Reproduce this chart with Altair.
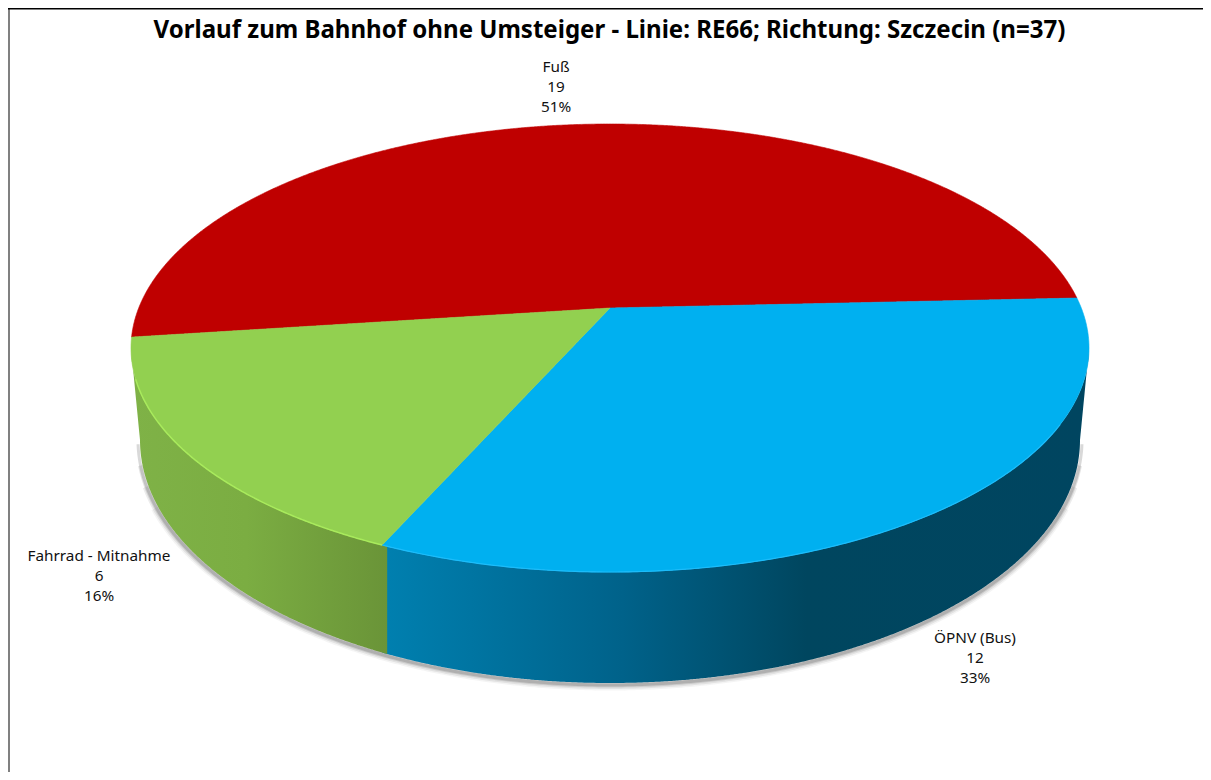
import numpy as np
import pandas as pd
import altair as alt

TITLE = "Vorlauf zum Bahnhof ohne Umsteiger - Linie: RE66; Richtung: Szczecin (n=37)"
categories = ["Fuß", "Fahrrad - Mitnahme", "ÖPNV (Bus)"]
counts = [19, 6, 12]
percents = ["51%", "16%", "33%"]
label_x = [556, 99, 975]
label_y = [67, 556, 638]
# slice boundaries (degrees round the rim: red/blue, blue/green, green/red)
edge_deg = [-12.9, 118.4, 182.8]

ORIGIN = 8
CHART_W, CHART_H = 1195, 764
cx, cy, a, b = 610.0, 348.0, 479.0, 224.0      # top rim
apex = (610.0, 308.0)                          # where the slices meet
a2, cy2, b2 = 470.0, 440.0, 243.0              # bottom rim

xs_scale = alt.Scale(domain=[ORIGIN, ORIGIN + CHART_W], nice=False, zero=False)
ys_scale = alt.Scale(domain=[ORIGIN + CHART_H, ORIGIN], nice=False, zero=False)
X = alt.X("x:Q", scale=xs_scale, axis=None)
Y = alt.Y("y:Q", scale=ys_scale, axis=None)
Y2 = alt.Y2("y2:Q")


def rim(deg):
    t = np.radians(deg)
    return cx + a * np.cos(t), cy + b * np.sin(t)


def top_up(x):
    return cy - b * np.sqrt(np.clip(1 - ((x - cx) / a) ** 2, 0, 1))


def top_lo(x):
    return cy + b * np.sqrt(np.clip(1 - ((x - cx) / a) ** 2, 0, 1))


def bot_lo(x):
    return cy2 + b2 * np.sqrt(np.clip(1 - ((x - cx) / a2) ** 2, 0, 1))


def samples(x0, x1, *extra):
    d = cx + a * np.cos(np.linspace(0, np.pi, 500))
    e = cx + a2 * np.cos(np.linspace(0, np.pi, 500))
    d = np.concatenate([d, e])
    d = d[(d > x0) & (d < x1)]
    return np.unique(np.concatenate([d, [x0, x1], list(extra)]))


p_rb = rim(edge_deg[0])
p_bg = rim(edge_deg[1])
p_gr = rim(edge_deg[2])
left, right = cx - a, cx + a

# red slice
x = samples(p_gr[0], p_rb[0], apex[0])
red = pd.DataFrame({"x": x, "y": top_up(x),
                    "y2": np.interp(x, [p_gr[0], apex[0], p_rb[0]], [p_gr[1], apex[1], p_rb[1]])})

# green slice
x = samples(left, apex[0], p_gr[0], p_bg[0])
green = pd.DataFrame({"x": x,
                      "y": np.where(x < p_gr[0], top_up(x), np.interp(x, [p_gr[0], apex[0]], [p_gr[1], apex[1]])),
                      "y2": np.where(x < p_bg[0], top_lo(x), np.interp(x, [p_bg[0], apex[0]], [p_bg[1], apex[1]]))})

# blue slice
x = samples(p_bg[0], right, apex[0], p_rb[0])
blue = pd.DataFrame({"x": x,
                     "y": np.where(x > p_rb[0], top_up(x),
                                   np.interp(x, [p_bg[0], apex[0], p_rb[0]], [p_bg[1], apex[1], p_rb[1]])),
                     "y2": top_lo(x)})

# side wall
side_left, side_right = cx - a2, cx + a2


def wall_lo(x):
    return np.where(x < side_left, np.interp(x, [left, side_left], [cy, cy2]),
                    np.where(x > side_right, np.interp(x, [side_right, right], [cy2, cy]), bot_lo(x)))


wall_split = p_bg[0] + 5
wall_split_y = top_lo(np.array([p_bg[0]]))[0]
x = samples(left, wall_split, side_left, p_bg[0])
green_wall = pd.DataFrame({"x": x,
                           "y": np.where(x < p_bg[0], top_lo(x), wall_split_y),
                           "y2": wall_lo(x)})
x = samples(p_bg[0], right, side_right)
blue_wall = pd.DataFrame({"x": x, "y": top_lo(x), "y2": wall_lo(x)})


# shadow: stacked soft strokes, the wider ones stop earlier so the ends fade out
def shadow_arc(d0, d1):
    t = np.radians(np.linspace(d0, d1, 300))
    return pd.DataFrame({"x": cx + (a2 + 2) * np.cos(t), "y": cy2 + (b2 + 2) * np.sin(t), "o": np.arange(300)})


def arc_line(d0, d1):
    t = np.radians(np.linspace(d0, d1, 200))
    return pd.DataFrame({"x": cx + a * np.cos(t), "y": cy + b * np.sin(t), "o": np.arange(200)})


def area(df, **kw):
    return alt.Chart(df).mark_area(interpolate="linear", **kw).encode(x=X, y=Y, y2=Y2)


def line(df, color, w, op=1.0):
    return alt.Chart(df).mark_line(color=color, strokeWidth=w, opacity=op, clip=False).encode(
        x=X, y=Y, order="o:Q")


green_grad = alt.Gradient(gradient="linear", x1=0, x2=1, y1=0, y2=0, stops=[
    alt.GradientStop(offset=0, color="#7fb247"),
    alt.GradientStop(offset=0.45, color="#7bad42"),
    alt.GradientStop(offset=1, color="#6a9438")])
blue_grad = alt.Gradient(gradient="linear", x1=0, x2=1, y1=0, y2=0, stops=[
    alt.GradientStop(offset=0, color="#0080b0"),
    alt.GradientStop(offset=0.34, color="#00628a"),
    alt.GradientStop(offset=0.6, color="#00465f"),
    alt.GradientStop(offset=1, color="#004560")])

layers = []
for w, op, d0, d1 in [(11, 0.06, 16, 164), (8, 0.10, 11, 169), (5, 0.14, 6, 174), (3, 0.2, 1, 179)]:
    layers.append(line(shadow_arc(d0, d1), "#404040", w, op))
layers += [
    area(blue_wall, fill=blue_grad),
    area(green_wall, fill=green_grad),
    area(red, color="#bf0000", stroke="#bf0000", strokeWidth=0.6),
    area(blue, color="#00b0f0", stroke="#00b0f0", strokeWidth=0.6),
    area(green, color="#92d050", stroke="#92d050", strokeWidth=0.6),
    line(arc_line(edge_deg[1], 172), "#a8ea5c", 1.5),
    line(arc_line(20, edge_deg[1]), "#1cbcfa", 1.2),
]

# labels
rows = []
for c, n, p, lx, ly in zip(categories, counts, percents, label_x, label_y):
    for i, s in enumerate([c, str(n), p]):
        rows.append({"x": lx, "y": ly + 20 * i, "t": s})
labels = alt.Chart(pd.DataFrame(rows)).mark_text(
    font="Noto Sans", fontSize=15.3, color="#111111", align="center", baseline="middle"
).encode(x=X, y=Y, text="t:N")

title = alt.Chart(pd.DataFrame({"x": [609.5], "y": [31], "t": [TITLE]})).mark_text(
    font="Noto Sans", fontWeight="bold", fontSize=24.05, color="#000000", align="center", baseline="middle"
).encode(x=X, y=Y, text="t:N")

border_left = alt.Chart(pd.DataFrame({"a": [0]})).mark_rule(color="#808080", strokeWidth=2).encode(
    x=alt.value(1), y=alt.value(0), y2=alt.value(CHART_H))
border_top = alt.Chart(pd.DataFrame({"a": [0]})).mark_rule(color="#000000", strokeWidth=1.5).encode(
    y=alt.value(0.75), x=alt.value(0), x2=alt.value(CHART_W))

chart = alt.layer(*layers, labels, title, border_left, border_top).properties(
    width=CHART_W, height=CHART_H, padding=0, autosize=alt.AutoSizeParams(type="none"),
    background="white"
).configure_view(stroke=None)

chart.save("out.html", embed_options={"renderer": "svg", "actions": False})
